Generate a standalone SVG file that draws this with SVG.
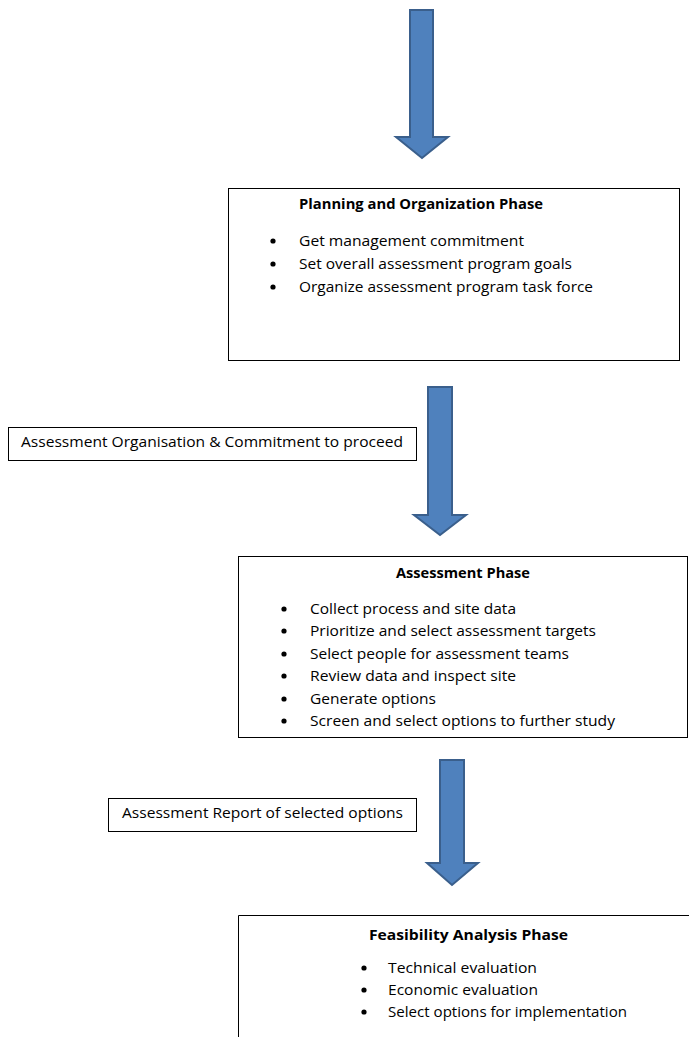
<svg xmlns="http://www.w3.org/2000/svg" width="689" height="1037" viewBox="0 0 689 1037">
<style>
.box{fill:#fff;stroke:#000;stroke-width:1}
.arrow{fill:#4F81BD;stroke:#3A5F8C;stroke-width:2;stroke-linejoin:miter}
.t{font-family:"Open Sans","Liberation Sans",sans-serif;font-size:14px;fill:#000}
.h{font-family:"Open Sans","Liberation Sans",sans-serif;font-size:14px;font-weight:bold;fill:#000}
.b{fill:#000}
</style>
<rect width="689" height="1037" fill="#fff"/>
<g id="connectors">
<path class="arrow" d="M410,10 H433 V137 H448 L422,158 L396,137 H410 Z"/>
<path class="arrow" d="M428,387 H452 V515 H466 L440,535 L414,515 H428 Z"/>
<path class="arrow" d="M440,760 H464 V863 H478 L452,885 L427,863 H440 Z"/>
</g>
<g id="planning">
<rect class="box" x="228.5" y="188.5" width="451" height="172"/>
<text class="h" x="299" y="209" textLength="244" lengthAdjust="spacingAndGlyphs">Planning and Organization Phase</text>
<circle class="b" cx="273" cy="241" r="2.6"/>
<circle class="b" cx="273" cy="264" r="2.6"/>
<circle class="b" cx="273" cy="287" r="2.6"/>
<text class="t" x="299" y="246" textLength="225" lengthAdjust="spacingAndGlyphs">Get management commitment</text>
<text class="t" x="299" y="269" textLength="273" lengthAdjust="spacingAndGlyphs">Set overall assessment program goals</text>
<text class="t" x="299" y="292" textLength="294" lengthAdjust="spacingAndGlyphs">Organize assessment program task force</text>
</g>
<g id="label1">
<rect class="box" x="8.5" y="427.5" width="408" height="33"/>
<text class="t" x="21" y="447" textLength="382" lengthAdjust="spacingAndGlyphs">Assessment Organisation &amp; Commitment to proceed</text>
</g>
<g id="assessment">
<rect class="box" x="238.5" y="556.5" width="449" height="181"/>
<text class="h" x="396" y="578" textLength="134" lengthAdjust="spacingAndGlyphs">Assessment Phase</text>
<circle class="b" cx="284" cy="609" r="2.6"/>
<circle class="b" cx="284" cy="631" r="2.6"/>
<circle class="b" cx="284" cy="654" r="2.6"/>
<circle class="b" cx="284" cy="676" r="2.6"/>
<circle class="b" cx="284" cy="699" r="2.6"/>
<circle class="b" cx="284" cy="721" r="2.6"/>
<text class="t" x="310" y="614" textLength="206" lengthAdjust="spacingAndGlyphs">Collect process and site data</text>
<text class="t" x="310" y="636" textLength="286" lengthAdjust="spacingAndGlyphs">Prioritize and select assessment targets</text>
<text class="t" x="310" y="659" textLength="259" lengthAdjust="spacingAndGlyphs">Select people for assessment teams</text>
<text class="t" x="310" y="681" textLength="206" lengthAdjust="spacingAndGlyphs">Review data and inspect site</text>
<text class="t" x="310" y="704" textLength="126" lengthAdjust="spacingAndGlyphs">Generate options</text>
<text class="t" x="310" y="726" textLength="305" lengthAdjust="spacingAndGlyphs">Screen and select options to further study</text>
</g>
<g id="label2">
<rect class="box" x="108.5" y="798.5" width="308" height="33"/>
<text class="t" x="122" y="818" textLength="281" lengthAdjust="spacingAndGlyphs">Assessment Report of selected options</text>
</g>
<g id="feasibility">
<path fill="#fff" stroke="#000" stroke-width="1" d="M238.5,1040 V915.5 H692"/>
<text class="h" x="369" y="940" textLength="199" lengthAdjust="spacingAndGlyphs">Feasibility Analysis Phase</text>
<circle class="b" cx="364" cy="968" r="2.6"/>
<circle class="b" cx="364" cy="990" r="2.6"/>
<circle class="b" cx="364" cy="1012" r="2.6"/>
<text class="t" x="388" y="973" textLength="149" lengthAdjust="spacingAndGlyphs">Technical evaluation</text>
<text class="t" x="388" y="995" textLength="150" lengthAdjust="spacingAndGlyphs">Economic evaluation</text>
<text class="t" x="388" y="1017" textLength="239" lengthAdjust="spacingAndGlyphs">Select options for implementation</text>
</g>
</svg>
